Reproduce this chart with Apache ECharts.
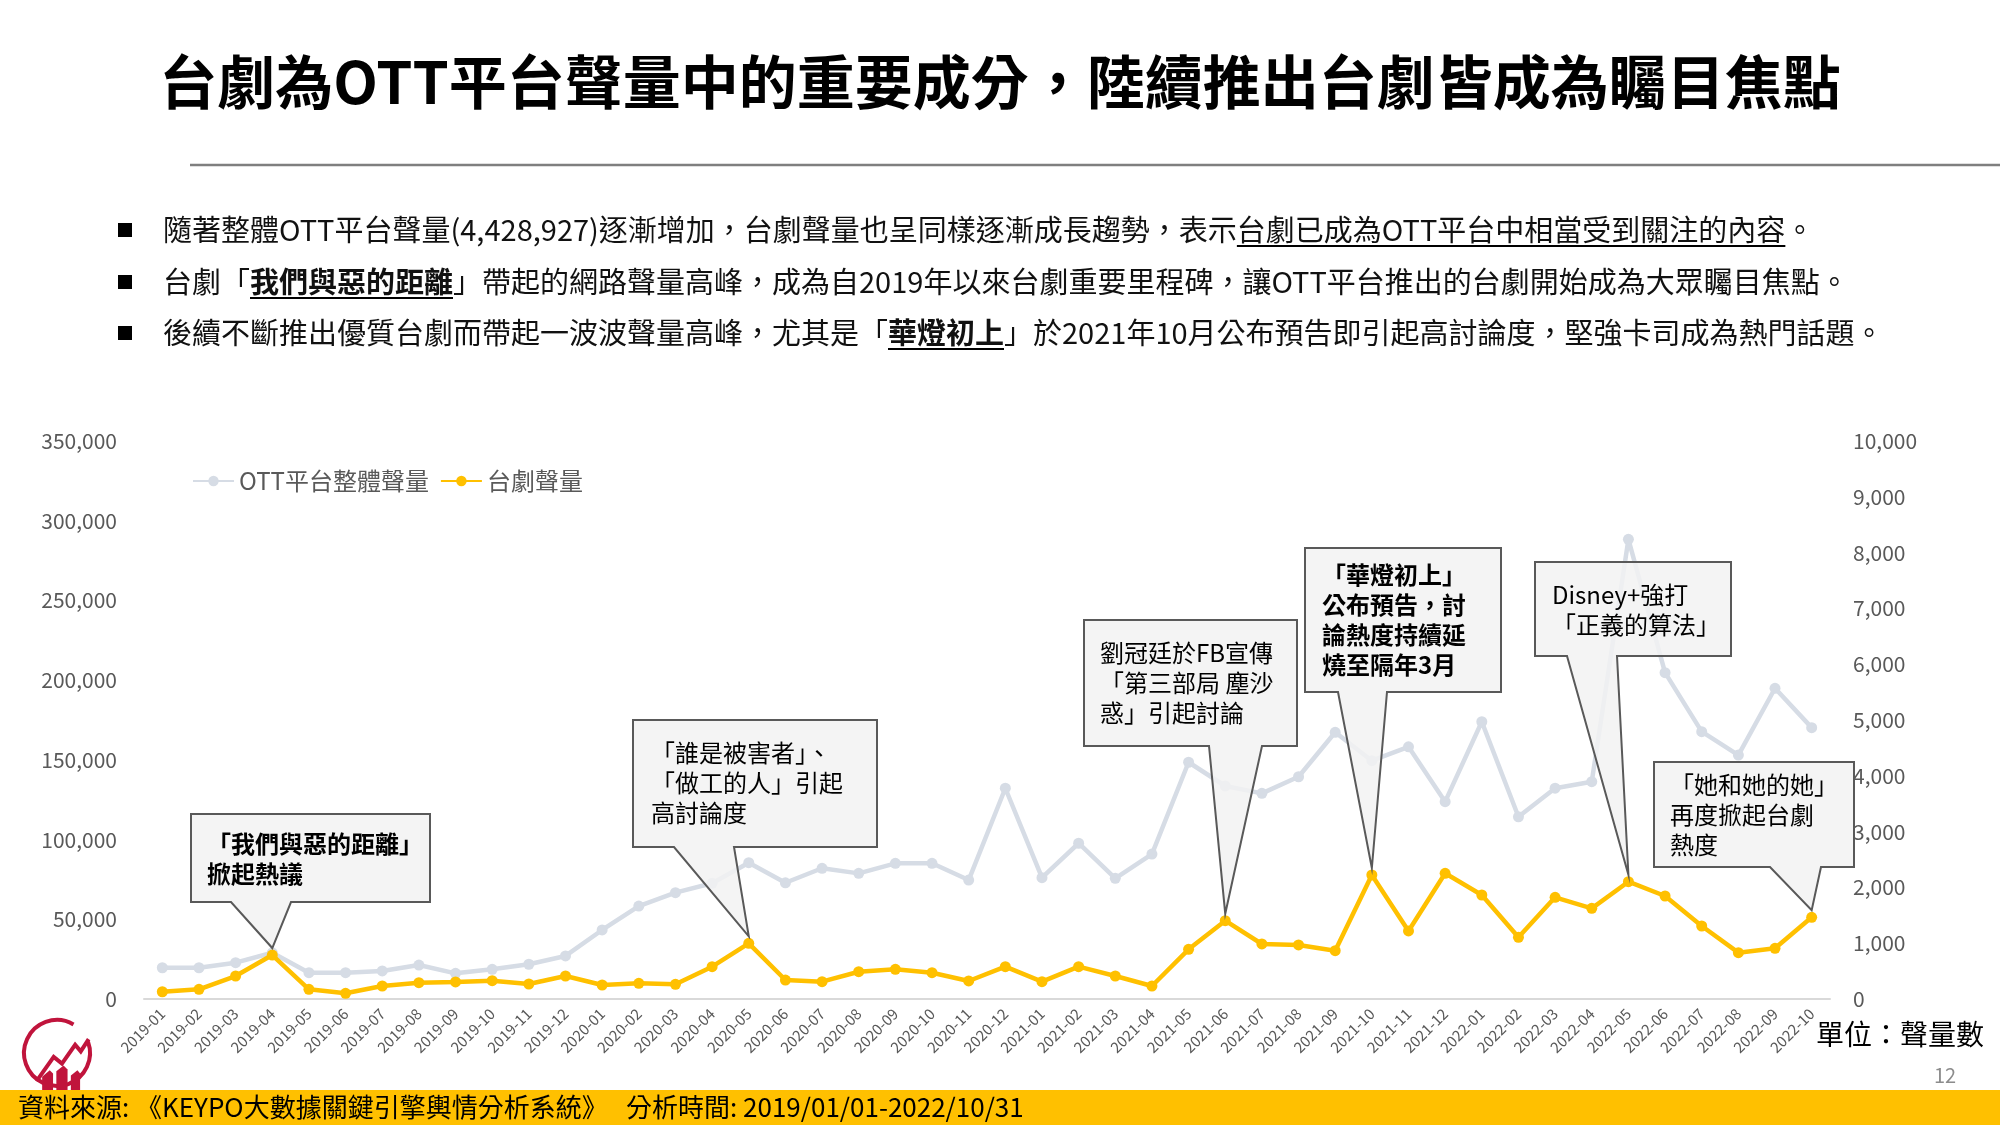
<!DOCTYPE html>
<html>
<head>
<meta charset="utf-8">
<script src="https://cdn.jsdelivr.net/npm/echarts@6/dist/echarts.min.js"></script>
<style>
html,body{margin:0;padding:0;background:#fff;}
#main{width:2000px;height:1125px;}
</style>
</head>
<body>
<div id="main"></div>
<script>
// ---------------- DATA ----------------
const categories = [
  '2019-01','2019-02','2019-03','2019-04','2019-05','2019-06','2019-07','2019-08','2019-09','2019-10','2019-11','2019-12',
  '2020-01','2020-02','2020-03','2020-04','2020-05','2020-06','2020-07','2020-08','2020-09','2020-10','2020-11','2020-12',
  '2021-01','2021-02','2021-03','2021-04','2021-05','2021-06','2021-07','2021-08','2021-09','2021-10','2021-11','2021-12',
  '2022-01','2022-02','2022-03','2022-04','2022-05','2022-06','2022-07','2022-08','2022-09','2022-10'
];
const ottVolume = [
  19600, 19600, 22800, 29000, 16500, 16500, 17600, 21300, 16100, 18600, 21800, 27000,
  43300, 58300, 66700, 72600, 85500, 72900, 82000, 78800, 85100, 85100, 74600, 132200,
  76100, 97700, 75700, 90900, 148500, 133600, 129000, 139400, 167300, 149500, 158200, 123800,
  173900, 114300, 132200, 136300, 288300, 204700, 167700, 153000, 194900, 170200
];
const taijuVolume = [
  130, 174, 412, 788, 174, 102, 233, 292, 305, 328, 269, 412,
  251, 281, 263, 579, 998, 340, 310, 489, 532, 471, 323, 579,
  310, 579, 412, 233, 890, 1403, 986, 968, 866, 2222, 1219, 2253,
  1864, 1106, 1822, 1625, 2102, 1846, 1308, 830, 908, 1464
];
const seriesNames = ['OTT平台整體聲量', '台劇聲量'];
const leftAxisRange = [0, 350000, 50000];
const rightAxisRange = [0, 10000, 1000];

const titleText = '台劇為OTT平台聲量中的重要成分，陸續推出台劇皆成為矚目焦點';
const bulletLines = [
  [{t:'隨著整體OTT平台聲量(4,428,927)逐漸增加，台劇聲量也呈同樣逐漸成長趨勢，表示'},{t:'台劇已成為OTT平台中相當受到關注的內容',u:true},{t:'。'}],
  [{t:'台劇「'},{t:'我們與惡的距離',b:true,u:true},{t:'」帶起的網路聲量高峰，成為自2019年以來台劇重要里程碑，讓OTT平台推出的台劇開始成為大眾矚目焦點。'}],
  [{t:'後續不斷推出優質台劇而帶起一波波聲量高峰，尤其是「'},{t:'華燈初上',b:true,u:true},{t:'」於2021年10月公布預告即引起高討論度，堅強卡司成為熱門話題。'}]
];
const annotations = [
  {month:'2019-04', lines:['「我們與惡的距離」','掀起熱議']},
  {month:'2020-05', lines:['「誰是被害者」、','「做工的人」引起','高討論度']},
  {month:'2021-06', lines:['劉冠廷於FB宣傳','「第三部局 塵沙','惑」引起討論']},
  {month:'2021-10', lines:['「華燈初上」','公布預告，討','論熱度持續延','燒至隔年3月']},
  {month:'2022-05', lines:['Disney+強打','「正義的算法」']},
  {month:'2022-10', lines:['「她和她的她」','再度掀起台劇','熱度']}
];
const sourceLabel = '資料來源:';
const sourceName = '《KEYPO大數據關鍵引擎輿情分析系統》';
const periodText = '分析時間: 2019/01/01-2022/10/31';
const unitText = '單位：聲量數';
const pageNumber = '12';

// ---------------- LAYOUT / STYLE ----------------
const FONT = '"Noto Sans CJK TC","Noto Sans CJK SC",sans-serif';
const GRAY = '#D6DCE5';
const GOLD = '#FFC000';
const calloutLayout = [
  {box:[191,814,430,902],  base:[231,291],   tx:207,  ty:844, bold:true},
  {box:[633,720,877,847],  base:[674,734],   tx:651,  ty:753, bold:false},
  {box:[1084,620,1297,746],base:[1209,1262], tx:1100, ty:653, bold:false},
  {box:[1305,548,1501,692],base:[1338,1387], tx:1322, ty:575, bold:true},
  {box:[1535,562,1731,656],base:[1567,1617], tx:1552, ty:595, bold:false},
  {box:[1654,762,1854,867],base:[1770,1821], tx:1670, ty:785, bold:false}
];
const bulletY = [230, 282, 333];
const BULLET_SIZE = 29;

const fmt = v => String(v).replace(/\B(?=(\d{3})+(?!\d))/g, ',');

const chart = echarts.init(document.getElementById('main'), null, {renderer:'canvas', width:2000, height:1125});

const option = {
  animation: false,
  backgroundColor: '#ffffff',
  textStyle: {fontFamily: FONT},
  legend: {
    left: 187, top: 464,
    itemWidth: 41, itemHeight: 13, itemGap: 11,
    textStyle: {fontSize: 24, color: '#595959', fontFamily: FONT},
    data: seriesNames
  },
  grid: {left: 144, right: 170, top: 441, bottom: 126},
  xAxis: {
    type: 'category', data: categories, boundaryGap: true,
    axisLine: {lineStyle: {color: '#d9d9d9', width: 2}},
    axisTick: {show: false},
    axisLabel: {rotate: 45, interval: 0, fontSize: 15, color: '#595959', margin: 12, fontFamily: FONT}
  },
  yAxis: [
    {
      type: 'value', min: leftAxisRange[0], max: leftAxisRange[1], interval: leftAxisRange[2],
      axisLine: {show: false}, axisTick: {show: false}, splitLine: {show: false},
      axisLabel: {fontSize: 21, color: '#595959', margin: 27, fontFamily: FONT, formatter: fmt}
    },
    {
      type: 'value', position: 'right', min: rightAxisRange[0], max: rightAxisRange[1], interval: rightAxisRange[2],
      axisLine: {show: false}, axisTick: {show: false}, splitLine: {show: false},
      axisLabel: {fontSize: 21, color: '#595959', margin: 23, fontFamily: FONT, formatter: fmt}
    }
  ],
  series: [
    {
      name: seriesNames[0], type: 'line', yAxisIndex: 0, data: ottVolume,
      symbol: 'circle', symbolSize: 11, z: 2,
      itemStyle: {color: GRAY}, lineStyle: {color: GRAY, width: 4.5}
    },
    {
      name: seriesNames[1], type: 'line', yAxisIndex: 1, data: taijuVolume,
      symbol: 'circle', symbolSize: 11, z: 3,
      itemStyle: {color: GOLD}, lineStyle: {color: GOLD, width: 4.5}
    }
  ]
};
chart.setOption(option);

// --------------- graphics ---------------
const mctx = document.createElement('canvas').getContext('2d');
function textW(s, size, weight) {
  mctx.font = (weight || 'normal') + ' ' + size + 'px ' + FONT;
  return mctx.measureText(s).width;
}
function ts(extra) {
  return Object.assign({fontFamily: FONT, fill: '#000'}, extra);
}

const gfx = [];
// title
gfx.push({type:'text', x:1000, y:82, z:10, style: ts({text:titleText, fontSize:58, fontWeight:'bold',
  align:'center', verticalAlign:'middle', textAlign:'center', textVerticalAlign:'middle'})});
// separator line
gfx.push({type:'line', z:10, shape:{x1:190, y1:165, x2:2000, y2:165}, style:{stroke:'#7f7f7f', lineWidth:2.5}});

// bullets
const richStyles = {
  n: {fontSize: BULLET_SIZE, fontFamily: FONT, fontWeight: 'normal', fill: '#111'},
  b: {fontSize: BULLET_SIZE, fontFamily: FONT, fontWeight: 'bold', fill: '#111'}
};
bulletLines.forEach((segs, i) => {
  const y = bulletY[i];
  gfx.push({type:'rect', z:10, shape:{x:118, y:y-7, width:14, height:14}, style:{fill:'#000'}});
  const txt = segs.map(s => '{' + (s.b ? 'b' : 'n') + '|' + s.t + '}').join('');
  const x0 = 163;
  gfx.push({type:'text', z:10, x:x0, y:y, style: ts({text: txt, rich: richStyles, fontSize: BULLET_SIZE,
    align:'left', verticalAlign:'middle', textAlign:'left', textVerticalAlign:'middle'})});
  let cx = x0;
  segs.forEach(s => {
    const w = textW(s.t, BULLET_SIZE, s.b ? 'bold' : 'normal');
    if (s.u) {
      gfx.push({type:'line', z:10, shape:{x1:cx, y1:y+16, x2:cx+w, y2:y+16}, style:{stroke:'#000', lineWidth:2}});
    }
    cx += w;
  });
});

// callouts
const LH = 30;
annotations.forEach((a, i) => {
  const L = calloutLayout[i];
  const idx = categories.indexOf(a.month);
  const p = chart.convertToPixel({seriesIndex: 1}, [idx, taijuVolume[idx]]);
  const [x0, y0, x1, y1] = L.box;
  const pts = [[x0,y0],[x1,y0],[x1,y1],[L.base[1],y1],[p[0], p[1]-7],[L.base[0],y1],[x0,y1]];
  gfx.push({type:'polygon', z:20, shape:{points: pts},
    style:{fill:'rgba(242,242,242,0.86)', stroke:'#595959', lineWidth:2, lineJoin:'miter'}});
  gfx.push({type:'text', z:21, x:L.tx, y:L.ty - LH/2, style: ts({text: a.lines.join('\n'), fontSize: 24,
    fontWeight: L.bold ? 'bold' : 'normal', lineHeight: LH,
    align:'left', verticalAlign:'top', textAlign:'left', textVerticalAlign:'top'})});
});

// logo
const RED = '#C0143C';
const LC = [57, 1053], LR = 33;
const lp = (u, v) => [LC[0] + u * LR, LC[1] + v * LR];
gfx.push({type:'arc', z:10, shape:{cx:LC[0], cy:LC[1], r:LR, startAngle:-Math.PI/9, endAngle:5*Math.PI/3, clockwise:true},
  style:{stroke:RED, lineWidth:4, fill:null}});
gfx.push({type:'polyline', z:10, shape:{points:[lp(-0.62,0.85), lp(-0.1,0.12), lp(0.15,0.32), lp(0.55,-0.25), lp(0.72,-0.05), lp(0.96,-0.42)]},
  style:{stroke:RED, lineWidth:4, fill:null, lineJoin:'miter'}});
gfx.push({type:'polygon', z:10, shape:{points:[lp(-0.45,1.2), lp(-0.45,0.72), lp(-0.22,0.52), lp(-0.12,0.62), lp(-0.12,1.2)]}, style:{fill:RED}});
gfx.push({type:'polygon', z:10, shape:{points:[lp(-0.02,1.2), lp(-0.02,0.55), lp(0.2,0.38), lp(0.32,0.5), lp(0.32,1.2)]}, style:{fill:RED}});
gfx.push({type:'polygon', z:10, shape:{points:[lp(0.42,1.2), lp(0.42,0.68), lp(0.62,0.52), lp(0.7,0.62), lp(0.7,1.2)]}, style:{fill:RED}});

// footer band
gfx.push({type:'rect', z:30, shape:{x:0, y:1090, width:2000, height:35}, style:{fill:GOLD}});
gfx.push({type:'text', z:31, x:18, y:1107, style: ts({text: sourceLabel, fontSize:26, verticalAlign:'middle', textVerticalAlign:'middle'})});
gfx.push({type:'text', z:31, x:136, y:1107, style: ts({text: sourceName, fontSize:26, verticalAlign:'middle', textVerticalAlign:'middle'})});
gfx.push({type:'text', z:31, x:626, y:1107, style: ts({text: periodText, fontSize:26, verticalAlign:'middle', textVerticalAlign:'middle'})});

// unit & page number
gfx.push({type:'text', z:10, x:1816, y:1034, style: ts({text: unitText, fontSize:28, verticalAlign:'middle', textVerticalAlign:'middle'})});
gfx.push({type:'text', z:10, x:1945, y:1075, style: ts({text: pageNumber, fontSize:20, fill:'#8c8c8c',
  align:'center', textAlign:'center', verticalAlign:'middle', textVerticalAlign:'middle'})});

chart.setOption({graphic: {elements: gfx}});
</script>
</body>
</html>
